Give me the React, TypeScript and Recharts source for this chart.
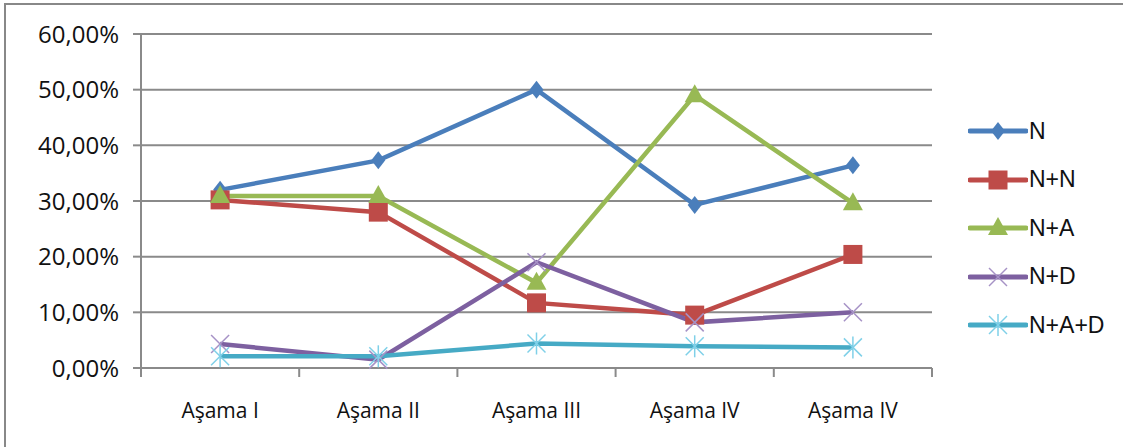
import React from 'react';
import { LineChart, Line, XAxis, YAxis, CartesianGrid } from 'recharts';

const stages = ['Aşama I', 'Aşama II', 'Aşama III', 'Aşama IV', 'Aşama IV'];
const nValues = [32.0, 37.3, 50.0, 29.3, 36.4];
const nnValues = [30.2, 28.0, 11.7, 9.5, 20.4];
const naValues = [30.9, 30.9, 15.3, 49.0, 29.6];
const ndValues = [4.3, 1.5, 19.0, 8.2, 10.0];
const nadValues = [2.1, 2.1, 4.4, 3.9, 3.7];
const yTicks = [0, 10, 20, 30, 40, 50, 60];

const series = [
  { key: 'N', values: nValues, color: '#4A7EBB', markColor: '#4A7EBB', shape: 'diamond' },
  { key: 'N+N', values: nnValues, color: '#BE4B48', markColor: '#BE4B48', shape: 'square' },
  { key: 'N+A', values: naValues, color: '#98B954', markColor: '#98B954', shape: 'triangle' },
  { key: 'N+D', values: ndValues, color: '#7D60A0', markColor: '#A692C6', shape: 'x' },
  { key: 'N+A+D', values: nadValues, color: '#46AAC5', markColor: '#7FD0E8', shape: 'star' },
];

const data = stages.map((s, i) => {
  const row: any = { stage: s };
  series.forEach(se => { row[se.key] = se.values[i]; });
  return row;
});

const W = 1123;
const H = 447;
const LEFT = 141;
const RIGHT = 191;
const TOP = 34;
const XH = 79;
const bandW = (W - LEFT - RIGHT) / stages.length;
const gridColor = '#8A8A8A';

function Marker({ shape, color, cx, cy }) {
  if (cx == null || cy == null) return null;
  if (shape === 'diamond') {
    return <polygon points={`${cx},${cy - 9} ${cx + 7},${cy} ${cx},${cy + 9} ${cx - 7},${cy}`} fill={color} />;
  }
  if (shape === 'square') {
    return <rect x={cx - 9.5} y={cy - 9.5} width={19} height={19} fill={color} />;
  }
  if (shape === 'triangle') {
    return <polygon points={`${cx},${cy - 11} ${cx + 10},${cy + 7} ${cx - 10},${cy + 7}`} fill={color} />;
  }
  return (
    <g stroke={color} strokeWidth={1.5}>
      <line x1={cx - 9} y1={cy - 9} x2={cx + 9} y2={cy + 9} />
      <line x1={cx - 9} y1={cy + 9} x2={cx + 9} y2={cy - 9} />
      {shape === 'star' && <line x1={cx} y1={cy - 11} x2={cx} y2={cy + 11} />}
    </g>
  );
}

function XTick({ x, y, payload, index }) {
  const last = index === stages.length - 1;
  return (
    <g>
      <line x1={x - bandW / 2} y1={y} x2={x - bandW / 2} y2={y + 9} stroke={gridColor} strokeWidth={2} />
      {last && <line x1={x + bandW / 2} y1={y} x2={x + bandW / 2} y2={y + 9} stroke={gridColor} strokeWidth={2} />}
      <text x={x} y={y + 50} textAnchor="middle" fontSize={21} fontFamily="Open Sans" fill="#111">
        {payload.value}
      </text>
    </g>
  );
}

function LegendBox() {
  return (
    <div style={{ position: 'absolute', left: 968, top: 107 }}>
      {series.map(se => (
        <div key={se.key} style={{ display: 'flex', alignItems: 'center', height: 48.5 }}>
          <svg width={60} height={24}>
            <line x1={2} y1={12} x2={58} y2={12} stroke={se.color} strokeWidth={5} strokeLinecap="round" />
            <Marker shape={se.shape} color={se.markColor} cx={30} cy={12} />
          </svg>
          <span style={{ fontFamily: '"Liberation Sans", Arial, sans-serif', fontSize: 23, color: '#111', marginLeft: 1 }}>{se.key}</span>
        </div>
      ))}
    </div>
  );
}

export default function App() {
  return (
    <div style={{ position: 'absolute', left: 0, top: 0, width: W, height: H, background: '#fff', overflow: 'hidden' }}>
      <div style={{ position: 'absolute', left: 4, top: 3, width: W + 20, height: H + 20, borderTop: '2.5px solid #888', borderLeft: '2.5px solid #888' }} />
      <LineChart width={W} height={H} data={data} margin={{ top: TOP, right: RIGHT, bottom: 0, left: 0 }}>
        <CartesianGrid vertical={false} stroke={gridColor} strokeWidth={2} />
        <XAxis
          dataKey="stage"
          height={XH}
          interval={0}
          padding={{ left: bandW / 2, right: bandW / 2 }}
          tickLine={false}
          tickSize={0}
          tickMargin={0}
          axisLine={{ stroke: gridColor, strokeWidth: 2 }}
          tick={XTick}
        />
        <YAxis
          width={LEFT}
          domain={[0, 60]}
          ticks={yTicks}
          tickSize={8}
          tickMargin={14}
          tickLine={{ stroke: gridColor, strokeWidth: 2 }}
          axisLine={{ stroke: gridColor, strokeWidth: 2 }}
          tick={{ fontSize: 24, fontFamily: 'Open Sans', fill: '#111' }}
          tickFormatter={v => `${v.toFixed(2).replace('.', ',')}%`}
        />
        {series.map(se => (
          <Line
            key={se.key}
            dataKey={se.key}
            type="linear"
            stroke={se.color}
            strokeWidth={4.5}
            isAnimationActive={false}
            dot={(p: any) => <Marker key={`${se.key}-${p.index}`} shape={se.shape} color={se.markColor} cx={p.cx} cy={p.cy} />}
            activeDot={false}
          />
        ))}
      </LineChart>
      <LegendBox />
    </div>
  );
}
